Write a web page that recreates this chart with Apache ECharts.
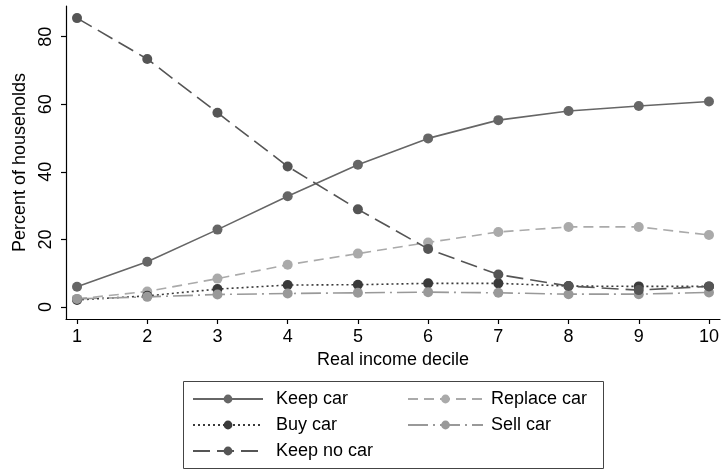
<!DOCTYPE html>
<html>
<head>
<meta charset="utf-8">
<script src="https://cdn.jsdelivr.net/npm/echarts@6/dist/echarts.min.js"></script>
<style>
  html, body { margin: 0; padding: 0; background: #fff; }
  #chart { width: 722px; height: 470px; }
</style>
</head>
<body>
<div id="chart"></div>
<script>
// Household car transitions by real income decile (percent of households)
const deciles = [1, 2, 3, 4, 5, 6, 7, 8, 9, 10];
const yTicks = [0, 20, 40, 60, 80];
const keepCar    = [6.0, 13.4, 22.9, 32.8, 42.1, 49.9, 55.3, 58.0, 59.5, 60.8];
const replaceCar = [2.4, 4.6, 8.4, 12.5, 15.8, 19.1, 22.2, 23.7, 23.7, 21.3];
const buyCar     = [2.1, 3.3, 5.3, 6.5, 6.6, 7.0, 7.0, 6.2, 6.1, 6.1];
const sellCar    = [2.4, 3.0, 3.7, 4.0, 4.2, 4.4, 4.2, 3.8, 3.8, 4.3];
const keepNoCar  = [85.5, 73.4, 57.5, 41.6, 28.9, 17.2, 9.6, 6.2, 5.0, 6.1];

const FONT = 'Liberation Sans, Arial, Helvetica, sans-serif';
const pairs = vals => deciles.map((d, i) => [d, vals[i]]);

function lineSeries(name, vals, color, dash) {
  return {
    name: name,
    type: 'line',
    data: pairs(vals),
    symbol: 'circle',
    symbolSize: 10,
    showSymbol: true,
    itemStyle: { color: color },
    lineStyle: { color: color, width: 1.6, type: dash },
    emphasis: { disabled: true },
    animation: false
  };
}

const chart = echarts.init(document.getElementById('chart'), null, { renderer: 'canvas' });

function legendColumn(left, itemWidth, textGap, names) {
  return {
    orient: 'vertical',
    left: left,
    top: 385,
    itemGap: 8,
    itemWidth: itemWidth,
    itemHeight: 11,
    textStyle: { fontFamily: FONT, fontSize: 18, color: '#000', padding: [0, 0, 0, textGap] },
    selectedMode: false,
    data: names
  };
}

chart.setOption({
  backgroundColor: '#fff',
  animation: false,
  grid: { left: 66, right: 2, top: 6, height: 313, containLabel: false },
  xAxis: {
    type: 'value',
    min: 0.843,
    max: 10.157,
    name: 'Real income decile',
    nameLocation: 'middle',
    nameGap: 29,
    nameTextStyle: { fontFamily: FONT, fontSize: 18, color: '#000' },
    axisLine: { show: true, onZero: false, lineStyle: { color: '#000', width: 1.2 } },
    axisTick: { show: true, length: 5, inside: false, customValues: deciles, lineStyle: { color: '#000', width: 1.2 } },
    axisLabel: { customValues: deciles, margin: 9, fontFamily: FONT, fontSize: 18, color: '#000' },
    splitLine: { show: false }
  },
  yAxis: {
    type: 'value',
    min: -3.55,
    max: 89.08,
    name: 'Percent of households',
    nameLocation: 'middle',
    nameGap: 33,
    nameRotate: 90,
    nameTextStyle: { fontFamily: FONT, fontSize: 18, color: '#000' },
    axisLine: { show: true, onZero: false, lineStyle: { color: '#000', width: 1.2 } },
    axisTick: { show: true, length: 5, inside: false, customValues: yTicks, lineStyle: { color: '#000', width: 1.2 } },
    axisLabel: { customValues: yTicks, rotate: 90, margin: 11, fontFamily: FONT, fontSize: 18, color: '#000' },
    splitLine: { show: false }
  },
  legend: [
    legendColumn(187, 70, 8, ['Keep car', 'Buy car', 'Keep no car']),
    legendColumn(402, 75, 3, ['Replace car', 'Sell car'])
  ],
  graphic: [{
    type: 'rect',
    shape: { x: 183.5, y: 381.5, width: 420, height: 87 },
    style: { fill: 'none', stroke: '#444', lineWidth: 1 },
    silent: true
  }],
  series: [
    lineSeries('Keep car', keepCar, '#666666', 'solid'),
    lineSeries('Replace car', replaceCar, '#aaaaaa', [10, 6]),
    lineSeries('Buy car', buyCar, '#3a3a3a', [2, 3]),
    lineSeries('Sell car', sellCar, '#999999', [20, 5, 2, 5]),
    lineSeries('Keep no car', keepNoCar, '#555555', [17, 7])
  ]
});
</script>
</body>
</html>
